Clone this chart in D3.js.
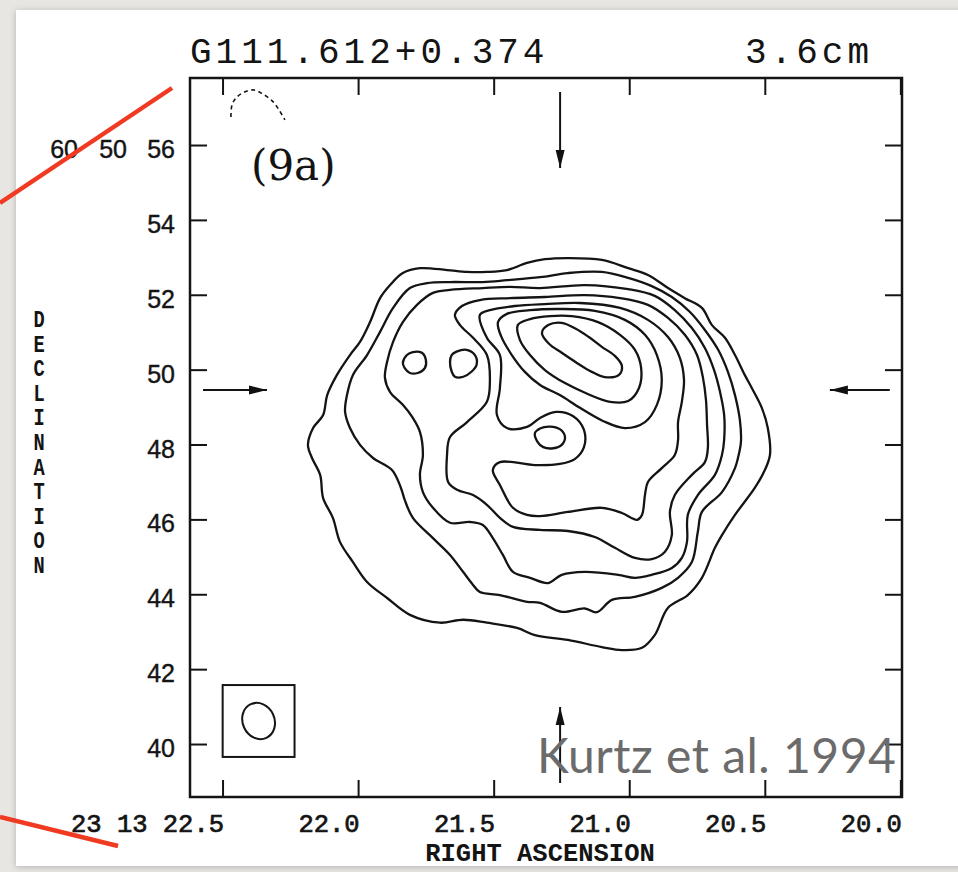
<!DOCTYPE html>
<html>
<head>
<meta charset="utf-8">
<script src="https://cdn.jsdelivr.net/npm/d3@7"></script>
<style>
  html, body { margin: 0; padding: 0; background: #e8e6e3; }
  svg { display: block; }
</style>
</head>
<body>
<svg id="chart" width="958" height="872"></svg>
<script>
// ---------- axes (RA in seconds of 23h13m, Dec in arcsec of +60°50') ----------
const raTicks = [22.5, 22.0, 21.5, 21.0, 20.5, 20.0];
const raTickLabels = ["23 13 22.5", "22.0", "21.5", "21.0", "20.5", "20.0"];
const decTicks = [40, 42, 44, 46, 48, 50, 52, 54, 56];
const decPrefix = ["60", "50"];
const raExtent = [22.62, 19.994];
const decExtent = [38.585, 57.79];

// ---------- 3.6 cm contours, [RA s, Dec "] ----------
const contour1 = [[21.919,51.91],[21.882,52.26],[21.835,52.58],[21.772,52.71],[21.672,52.66],[21.598,52.61],[21.525,52.61],[21.451,52.66],[21.377,52.85],[21.311,52.95],[21.226,52.98],[21.101,52.93],[21.004,52.71],[20.931,52.53],[20.857,52.18],[20.795,51.91],[20.732,51.65],[20.695,51.19],[20.647,50.85],[20.610,50.39],[20.574,49.86],[20.548,49.51],[20.511,48.98],[20.489,48.44],[20.481,47.72],[20.503,47.27],[20.537,46.84],[20.610,46.12],[20.658,45.58],[20.684,45.24],[20.732,44.44],[20.784,43.98],[20.857,43.64],[20.906,42.91],[20.953,42.57],[21.027,42.51],[21.101,42.59],[21.226,42.78],[21.348,42.91],[21.414,43.10],[21.525,43.24],[21.613,43.32],[21.698,43.24],[21.809,43.45],[21.893,43.90],[21.967,44.33],[22.019,44.86],[22.067,45.40],[22.093,46.04],[22.129,46.57],[22.140,47.19],[22.170,47.64],[22.185,47.99],[22.166,48.44],[22.129,48.79],[22.114,49.32],[22.078,49.86],[22.030,50.39],[21.993,50.74],[21.956,51.27]];
const contour2 = [[21.809,52.18],[21.746,52.31],[21.661,52.34],[21.540,52.34],[21.451,52.39],[21.329,52.47],[21.226,52.58],[21.101,52.61],[21.004,52.45],[20.917,52.23],[20.843,51.94],[20.776,51.54],[20.721,51.06],[20.672,50.53],[20.636,49.94],[20.610,49.32],[20.592,48.66],[20.588,48.07],[20.599,47.64],[20.610,47.37],[20.658,46.73],[20.732,46.20],[20.747,45.67],[20.769,44.86],[20.820,44.44],[20.880,44.17],[20.979,43.93],[21.064,43.85],[21.120,43.52],[21.164,43.62],[21.249,43.53],[21.329,43.77],[21.377,43.80],[21.477,43.98],[21.551,44.06],[21.576,44.25],[21.613,44.60],[21.661,45.05],[21.724,45.50],[21.798,46.04],[21.828,46.52],[21.842,46.84],[21.875,47.32],[21.945,47.64],[21.993,47.99],[22.030,48.44],[22.048,48.87],[22.041,49.32],[22.019,49.86],[21.967,50.39],[21.919,51.01],[21.871,51.65]];
const contour3 = [[21.724,52.05],[21.661,52.13],[21.540,52.18],[21.440,52.21],[21.329,52.18],[21.164,52.26],[21.004,52.15],[20.906,51.97],[20.832,51.59],[20.769,51.11],[20.721,50.58],[20.687,49.99],[20.665,49.40],[20.650,48.79],[20.650,48.12],[20.658,47.72],[20.684,47.19],[20.747,46.65],[20.784,46.12],[20.787,45.40],[20.806,44.97],[20.843,44.70],[20.917,44.52],[20.979,44.44],[21.041,44.52],[21.164,44.60],[21.249,44.52],[21.299,44.30],[21.366,44.44],[21.429,44.60],[21.466,45.05],[21.503,45.50],[21.540,45.85],[21.587,45.93],[21.661,45.91],[21.724,46.31],[21.761,46.73],[21.772,47.19],[21.761,47.72],[21.772,48.34],[21.798,48.71],[21.835,49.06],[21.882,49.40],[21.901,49.78],[21.893,50.21],[21.871,50.74],[21.835,51.27],[21.783,51.73]];
const contour4 = [[21.643,51.46],[21.617,51.70],[21.551,51.86],[21.440,51.91],[21.311,51.94],[21.164,51.99],[21.034,51.91],[20.931,51.73],[20.857,51.38],[20.795,50.93],[20.750,50.39],[20.728,49.78],[20.717,49.19],[20.713,48.52],[20.710,47.91],[20.721,47.53],[20.769,47.19],[20.832,46.65],[20.850,46.20],[20.843,45.58],[20.869,45.13],[20.917,44.94],[20.979,44.97],[21.053,45.24],[21.127,45.53],[21.226,45.69],[21.329,45.72],[21.429,45.80],[21.477,46.04],[21.525,46.39],[21.576,46.65],[21.635,46.79],[21.668,47.00],[21.672,47.72],[21.661,48.20],[21.598,48.60],[21.525,49.14],[21.514,49.67],[21.525,50.39],[21.576,50.85],[21.624,51.19]];
const contour5 = [[21.551,51.46],[21.514,51.59],[21.422,51.70],[21.311,51.75],[21.182,51.78],[21.034,51.65],[20.931,51.33],[20.857,50.87],[20.813,50.31],[20.798,49.72],[20.806,49.14],[20.820,48.60],[20.820,48.12],[20.832,47.72],[20.880,47.37],[20.931,47.00],[20.942,46.65],[20.953,46.12],[20.971,45.99],[21.027,46.17],[21.101,46.31],[21.226,46.20],[21.329,46.09],[21.377,46.12],[21.429,46.31],[21.477,46.92],[21.503,47.32],[21.477,47.53],[21.348,47.45],[21.256,47.48],[21.201,47.61],[21.167,47.93],[21.167,48.39],[21.208,48.76],[21.270,48.87],[21.329,48.71],[21.377,48.47],[21.451,48.44],[21.488,48.79],[21.477,49.51],[21.477,50.39],[21.525,50.85]];
const contour6 = [[21.484,51.27],[21.451,51.49],[21.366,51.59],[21.256,51.62],[21.127,51.57],[21.016,51.33],[20.942,50.93],[20.898,50.39],[20.880,49.72],[20.898,49.06],[20.942,48.60],[21.016,48.44],[21.097,48.63],[21.182,48.98],[21.256,49.32],[21.329,49.59],[21.385,49.94],[21.433,50.39],[21.473,50.90]];
const contour7 = [[21.411,51.19],[21.366,51.35],[21.292,51.43],[21.212,51.43],[21.115,51.27],[21.034,50.93],[20.979,50.53],[20.956,50.04],[20.964,49.51],[21.004,49.16],[21.071,49.14],[21.153,49.35],[21.237,49.64],[21.311,49.99],[21.366,50.39],[21.403,50.79]];
const contour8 = [[21.322,50.98],[21.299,51.19],[21.249,51.25],[21.197,51.09],[21.149,50.87],[21.101,50.61],[21.052,50.36],[21.027,50.10],[21.038,49.86],[21.090,49.80],[21.138,49.94],[21.193,50.18],[21.249,50.45],[21.296,50.69]];
const islandWest = [[21.835,50.18],[21.820,50.39],[21.798,50.47],[21.765,50.45],[21.750,50.26],[21.754,50.04],[21.780,49.91],[21.809,49.91],[21.828,50.04]];
const islandEast = [[21.655,50.39],[21.637,50.48],[21.600,50.53],[21.569,50.39],[21.563,50.13],[21.581,49.95],[21.612,49.81],[21.643,49.81],[21.655,49.95],[21.661,50.21]];
const knotSouth = [[21.348,48.30],[21.329,48.43],[21.292,48.48],[21.256,48.41],[21.237,48.21],[21.249,47.99],[21.280,47.90],[21.317,47.93],[21.339,48.08]];
const positiveContours = [contour1, contour2, contour3, contour4, contour5, contour6, contour7, contour8, islandWest, islandEast, knotSouth];

// negative (dashed) contour at the top edge
const negativeContour = [[22.469,56.75],[22.465,57.07],[22.447,57.28],[22.417,57.42],[22.384,57.47],[22.351,57.36],[22.317,57.18],[22.292,56.94],[22.270,56.67]];

// synthesized beam (arcsec, PA in degrees) and its box
const beam = { ra: 22.367, dec: 40.615, major: 0.99, minor: 0.85, pa: 25, box: 1.92 };

// pointing-centre arrows
const centreArrows = [
  { from: [21.255, 57.416], to: [21.255, 55.386] },
  { from: [21.255, 38.959], to: [21.255, 40.989] },
  { from: [22.572, 49.456], to: [22.336, 49.456] },
  { from: [20.039, 49.456], to: [20.260, 49.456] }
];

// ---------- drawing ----------
const W = 958, H = 872;
const svg = d3.select("#chart");
const defs = svg.append("defs");

const shadow = defs.append("filter").attr("id", "paperShadow")
  .attr("x", "-5%").attr("y", "-5%").attr("width", "110%").attr("height", "110%");
shadow.append("feDropShadow").attr("dx", 0).attr("dy", 1).attr("stdDeviation", 3)
  .attr("flood-color", "#000").attr("flood-opacity", 0.22);

defs.append("marker").attr("id", "head")
  .attr("viewBox", "0 -5 18 10").attr("refX", 18).attr("refY", 0)
  .attr("markerWidth", 18).attr("markerHeight", 10)
  .attr("markerUnits", "userSpaceOnUse").attr("orient", "auto")
  .append("path").attr("d", "M0,-4.5L18,0L0,4.5Z").attr("fill", "#111");

// paper
svg.append("rect").attr("width", W).attr("height", H).attr("fill", "#e8e6e3");
svg.append("rect").attr("x", 16).attr("y", 10).attr("width", W).attr("height", 856)
  .attr("fill", "#ffffff").attr("filter", "url(#paperShadow)");

const x = d3.scaleLinear().domain(raExtent).range([190, 902]);
const y = d3.scaleLinear().domain(decExtent).range([797, 78]);
const pxPerArcsec = Math.abs(y(1) - y(0));

const ink = "#141414";

// contours
const closedLine = d3.line().x(d => x(d[0])).y(d => y(d[1]))
  .curve(d3.curveCatmullRomClosed.alpha(0.5));
const openLine = d3.line().x(d => x(d[0])).y(d => y(d[1]))
  .curve(d3.curveCatmullRom.alpha(0.5));

svg.append("g").selectAll("path").data(positiveContours).join("path")
  .attr("d", closedLine).attr("fill", "none").attr("stroke", ink)
  .attr("stroke-width", 2.3).attr("stroke-linejoin", "round");

svg.append("path").datum(negativeContour).attr("d", openLine)
  .attr("fill", "none").attr("stroke", ink).attr("stroke-width", 1.6)
  .attr("stroke-dasharray", "4,3.5");

// beam
const bx = x(beam.ra), by = y(beam.dec), half = beam.box * pxPerArcsec / 2;
svg.append("rect").attr("x", bx - half).attr("y", by - half)
  .attr("width", 2 * half).attr("height", 2 * half)
  .attr("fill", "none").attr("stroke", ink).attr("stroke-width", 2);
svg.append("ellipse").attr("cx", bx).attr("cy", by)
  .attr("rx", beam.minor * pxPerArcsec / 2).attr("ry", beam.major * pxPerArcsec / 2)
  .attr("transform", `rotate(${-beam.pa},${bx},${by})`)
  .attr("fill", "none").attr("stroke", ink).attr("stroke-width", 2);

// arrows
svg.append("g").selectAll("line").data(centreArrows).join("line")
  .attr("x1", d => x(d.from[0])).attr("y1", d => y(d.from[1]))
  .attr("x2", d => x(d.to[0])).attr("y2", d => y(d.to[1]))
  .attr("stroke", ink).attr("stroke-width", 2).attr("marker-end", "url(#head)");

// axes
const tickFont = "'Liberation Mono', 'DejaVu Sans Mono', monospace";
const decFont = "'Liberation Sans', Arial, sans-serif";

const gBottom = svg.append("g").attr("transform", `translate(0,${y.range()[0]})`)
  .call(d3.axisBottom(x).tickValues(raTicks).tickSize(-17).tickFormat((d, i) => raTickLabels[i]));
const gTop = svg.append("g").attr("transform", `translate(0,${y.range()[1]})`)
  .call(d3.axisTop(x).tickValues(raTicks).tickSize(-17).tickFormat(""));
const gLeft = svg.append("g").attr("transform", `translate(${x.range()[0]},0)`)
  .call(d3.axisLeft(y).tickValues(decTicks).tickSize(-17).tickFormat(d3.format("d")));
const gRight = svg.append("g").attr("transform", `translate(${x.range()[1]},0)`)
  .call(d3.axisRight(y).tickValues(decTicks).tickSize(-17).tickFormat(""));

[gBottom, gTop, gLeft, gRight].forEach(g => {
  g.select(".domain").remove();
  g.selectAll(".tick line").attr("stroke", ink).attr("stroke-width", 2);
});

gBottom.selectAll(".tick text")
  .attr("text-anchor", "end").attr("x", 1).attr("y", 34.5).attr("dy", 0)
  .attr("fill", ink).attr("stroke", ink).attr("stroke-width", 0.7)
  .style("font-family", tickFont).style("font-size", "25.5px");

gLeft.selectAll(".tick text")
  .attr("text-anchor", "end").attr("x", -15).attr("dy", "0.5em")
  .attr("fill", ink).style("font-family", decFont).style("font-size", "25px")
  .attr("stroke", ink).attr("stroke-width", 0.4);

// degree / arcmin prefix for the top declination label
const topDecY = y(decTicks[decTicks.length - 1]);
svg.append("g").selectAll("text").data(decPrefix).join("text")
  .attr("x", (d, i) => x.range()[0] - 112 + i * 49).attr("y", topDecY).attr("dy", "0.5em")
  .attr("text-anchor", "end").attr("fill", ink)
  .style("font-family", decFont).style("font-size", "25px")
  .attr("stroke", ink).attr("stroke-width", 0.4)
  .text(d => d);

// frame
svg.append("rect").attr("x", x.range()[0]).attr("y", y.range()[1])
  .attr("width", x.range()[1] - x.range()[0]).attr("height", y.range()[0] - y.range()[1])
  .attr("fill", "none").attr("stroke", ink).attr("stroke-width", 2.5);

// axis titles
svg.append("text").attr("x", 540).attr("y", 861).attr("text-anchor", "middle")
  .attr("fill", ink).style("font-family", tickFont).style("font-size", "25.5px")
  .style("font-weight", "bold").text("RIGHT ASCENSION");

const decWord = "DECLINATION".split("");
svg.append("g").selectAll("text").data(decWord).join("text")
  .attr("transform", (d, i) => `translate(39,${327 + i * 24.6}) scale(0.85,1.1)`)
  .attr("text-anchor", "middle")
  .attr("fill", ink).style("font-family", tickFont).style("font-size", "22px")
  .style("font-weight", "bold").text(d => d);

// titles
svg.append("text").attr("x", 190).attr("y", 63)
  .attr("fill", ink).style("font-family", "'Liberation Mono', monospace")
  .style("font-size", "36px").style("letter-spacing", "4px")
  .text("G111.612+0.374");
svg.append("text").attr("x", 873).attr("y", 63).attr("text-anchor", "end")
  .attr("fill", ink).style("font-family", "'Liberation Mono', monospace")
  .style("font-size", "36px").style("letter-spacing", "4px")
  .text("3.6cm");
svg.append("text").attr("x", 251).attr("y", 180)
  .attr("fill", ink).style("font-family", "'DejaVu Serif', serif")
  .style("font-size", "42px").text("(9a)");

// reference credit
svg.append("text").attr("x", 537).attr("y", 773)
  .attr("fill", "#6b6b6b").style("font-family", "Lato, 'Open Sans', sans-serif")
  .style("font-size", "48px").style("letter-spacing", "0.5px")
  .text("Kurtz et al. 1994");

// red pointer lines toward the map corners
const pointers = [
  { x1: 0, y1: 203, x2: 172, y2: 88 },
  { x1: 0, y1: 817, x2: 118, y2: 846 }
];
svg.append("g").selectAll("line").data(pointers).join("line")
  .attr("x1", d => d.x1).attr("y1", d => d.y1).attr("x2", d => d.x2).attr("y2", d => d.y2)
  .attr("stroke", "#f03a22").attr("stroke-width", 4.5).attr("stroke-linecap", "butt");
</script>
</body>
</html>
